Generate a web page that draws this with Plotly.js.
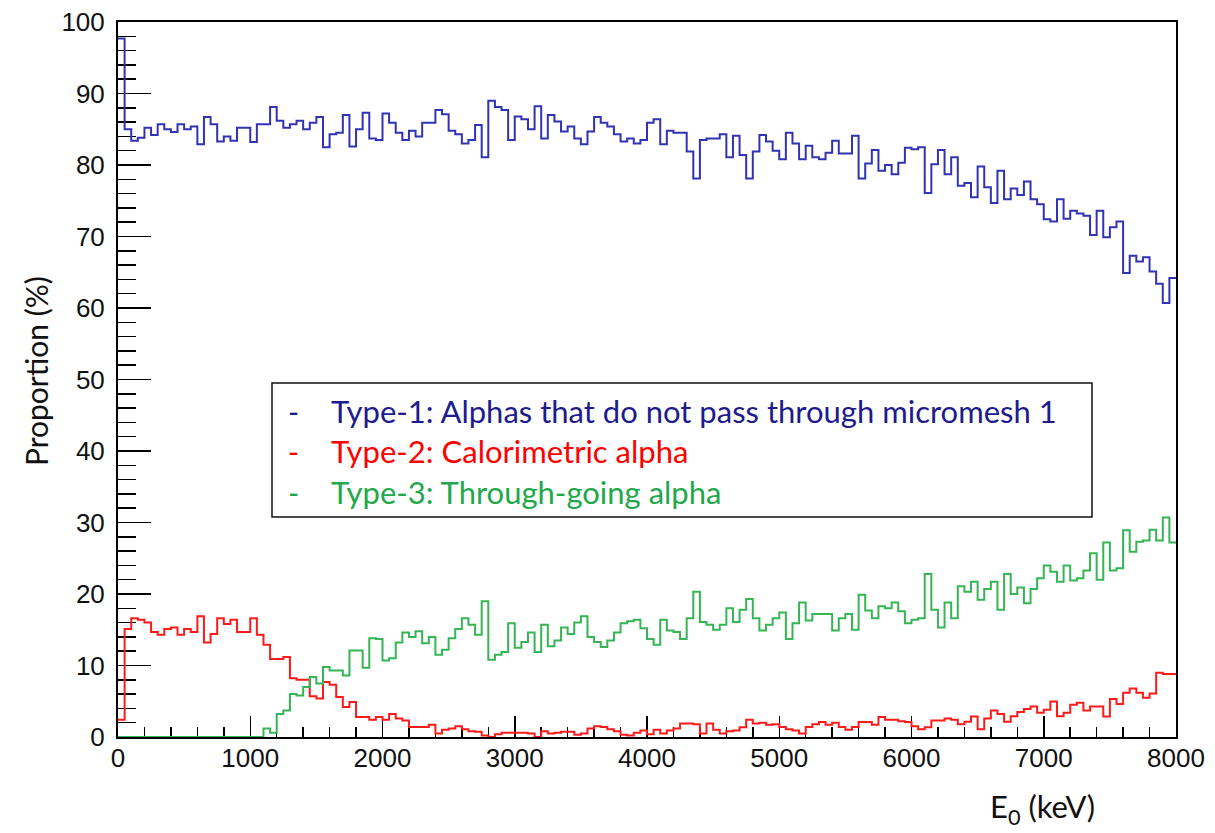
<!DOCTYPE html>
<html>
<head>
<meta charset="utf-8">
<script src="https://cdn.plot.ly/plotly-3.0.1.min.js"></script>
<style>
  html, body { margin: 0; padding: 0; background: #ffffff; }
  #chart { width: 1215px; height: 833px; }
</style>
</head>
<body>
<div id="chart"></div>
<script>
// Histogram binning (keV)
const binWidth = 50;
const energyMin = 0;
const energyMax = 8000;

// Type-1: Alphas that do not pass through micromesh 1 (%)
const type1 = [
  97.7, 85.0, 83.4, 83.8, 85.2, 84.2, 85.7, 85.0, 84.6, 85.7,
  85.0, 85.4, 82.9, 86.7, 85.7, 83.3, 84.0, 83.4, 85.2, 85.2,
  83.2, 85.7, 85.7, 88.1, 86.2, 85.2, 85.7, 86.2, 85.0, 85.9,
  86.7, 82.5, 84.3, 84.5, 87.0, 82.6, 85.0, 87.3, 83.7, 83.5,
  87.2, 85.9, 84.5, 83.5, 84.8, 84.0, 85.9, 85.9, 87.7, 87.1,
  84.8, 84.3, 83.0, 83.5, 85.6, 81.1, 89.0, 88.1, 87.7, 83.5,
  86.8, 86.4, 85.0, 88.2, 83.7, 87.0, 86.1, 84.7, 85.4, 83.7,
  82.9, 84.7, 86.7, 85.9, 85.4, 84.3, 83.3, 83.7, 83.0, 83.5,
  85.9, 86.4, 82.9, 84.8, 84.5, 84.5, 81.9, 78.1, 83.5, 83.7,
  83.7, 84.3, 81.1, 84.1, 81.4, 78.1, 81.9, 84.2, 83.3, 82.0,
  80.8, 84.5, 83.0, 80.8, 82.7, 81.1, 80.8, 81.7, 83.4, 81.6,
  81.6, 84.1, 78.1, 80.2, 82.1, 79.2, 80.0, 78.7, 80.3, 82.4,
  82.2, 82.5, 76.1, 80.1, 82.1, 78.7, 81.1, 77.1, 77.5, 75.5,
  79.8, 76.9, 74.7, 79.2, 75.2, 76.7, 75.8, 77.7, 75.2, 74.5,
  72.4, 72.1, 75.2, 72.5, 73.6, 73.2, 72.9, 70.2, 73.6, 69.9,
  71.3, 72.1, 64.9, 67.3, 66.5, 67.1, 65.1, 63.4, 60.7, 64.2
];

// Type-2: Calorimetric alpha (%)
const type2 = [
  2.4, 15.1, 16.6, 16.4, 16.0, 14.7, 14.3, 15.1, 15.3, 14.3,
  15.1, 14.7, 16.9, 13.2, 14.4, 16.6, 15.8, 16.4, 14.7, 14.7,
  16.6, 14.3, 12.9, 10.9, 10.9, 11.2, 8.2, 8.0, 8.0, 5.7,
  5.4, 7.7, 7.3, 5.6, 4.2, 4.9, 2.8, 2.8, 2.4, 2.8,
  2.4, 3.2, 2.6, 2.3, 1.4, 1.4, 1.4, 1.7, 0.5, 1.0,
  1.2, 1.5, 1.1, 0.8, 0.75, 0.2, 0.0, 0.4, 0.6, 0.6,
  0.6, 0.6, 0.5, 0.0, 0.8, 0.5, 0.6, 0.75, 0.75, 0.3,
  0.5, 1.2, 1.5, 1.4, 1.1, 0.8, 0.3, 0.2, 0.6, 0.9,
  0.4, 1.0, 0.5, 0.9, 1.2, 1.9, 1.9, 1.8, 0.5, 1.9,
  1.0, 0.5, 0.8, 0.9, 1.35, 2.4, 1.9, 2.0, 1.7, 1.8,
  1.4, 1.1, 0.9, 0.5, 1.4, 1.8, 2.1, 1.7, 2.0, 1.4,
  1.0, 1.4, 2.1, 2.1, 1.7, 2.8, 2.4, 2.4, 2.2, 2.1,
  1.5, 1.1, 1.35, 2.3, 2.3, 2.6, 2.4, 1.8, 2.15, 2.85,
  1.1, 2.6, 3.7, 3.2, 2.15, 2.9, 3.5, 3.9, 4.25, 3.4,
  3.8, 4.95, 2.9, 3.4, 4.5, 4.8, 3.7, 4.25, 4.25, 2.85,
  5.3, 4.6, 6.2, 6.8, 6.2, 5.5, 6.1, 9.0, 8.8, 8.8
];

// Type-3: Through-going alpha (%)
const type3 = [
  0, 0, 0, 0, 0, 0, 0, 0, 0, 0,
  0, 0, 0, 0, 0, 0, 0, 0, 0, 0,
  0, 0, 1.2, 0.6, 3.2, 3.7, 6.0, 5.8, 7.0, 8.4,
  7.5, 9.8, 9.3, 9.3, 8.6, 12.1, 12.1, 9.7, 13.8, 13.7,
  10.7, 11.0, 13.2, 14.6, 14.0, 14.8, 13.1, 14.0, 11.5, 12.2,
  13.8, 15.1, 16.6, 15.7, 14.3, 19.0, 10.8, 11.5, 11.9, 15.9,
  12.5, 13.3, 14.6, 11.9, 15.7, 12.7, 13.5, 15.3, 14.4, 16.0,
  16.9, 14.0, 13.3, 12.6, 13.5, 14.6, 15.9, 16.2, 16.4, 15.2,
  13.7, 12.9, 16.4, 14.9, 14.7, 13.7, 16.6, 20.3, 16.1, 15.7,
  15.0, 15.7, 18.0, 16.1, 17.8, 19.3, 16.6, 14.9, 15.7, 16.6,
  17.4, 13.7, 15.9, 18.8, 16.3, 17.2, 17.2, 17.2, 14.9, 16.6,
  17.2, 15.0, 19.9, 17.7, 16.6, 18.3, 18.0, 18.8, 17.6, 15.9,
  16.4, 16.6, 22.8, 17.8, 15.3, 18.8, 16.6, 21.1, 20.3, 21.7,
  19.2, 20.7, 21.7, 17.8, 22.8, 20.0, 20.9, 18.7, 20.7, 22.2,
  24.0, 23.1, 21.7, 24.0, 21.9, 22.2, 23.3, 25.7, 22.0, 27.2,
  23.3, 23.6, 28.9, 25.9, 27.3, 27.5, 29.0, 27.5, 30.7, 27.2
];

const seriesNames = [
  "Type-1: Alphas that do not pass through micromesh 1",
  "Type-2: Calorimetric alpha",
  "Type-3: Through-going alpha"
];
const lineColors = ["#3232b4", "#ff1a1a", "#35b554"];
const textColors = ["#1c1c8e", "#ff0000", "#22a84a"];

const xTickValues = [0, 1000, 2000, 3000, 4000, 5000, 6000, 7000, 8000];
const yTickValues = [0, 10, 20, 30, 40, 50, 60, 70, 80, 90, 100];

// bin edges: low edge of each bin plus the final upper edge
const nBins = Math.round((energyMax - energyMin) / binWidth);
const edges = [];
for (let i = 0; i <= nBins; i++) edges.push(energyMin + i * binWidth);

function stepTrace(values, color, name) {
  return {
    type: "scatter",
    mode: "lines",
    name: name,
    x: edges,
    y: values.concat([values[values.length - 1]]),
    line: { shape: "hv", color: color, width: 2 },
    hoverinfo: "x+y",
    showlegend: false
  };
}

const data = [
  stepTrace(type1, lineColors[0], seriesNames[0]),
  stepTrace(type2, lineColors[1], seriesNames[1]),
  stepTrace(type3, lineColors[2], seriesNames[2])
];

const tickFont = { family: "Liberation Sans, Arial, sans-serif", size: 26, color: "#111111" };
const labelFont = "Lato, Carlito, Calibri, sans-serif";

const L = 118, R = 1176, T = 22, B = 737;
const W = R - L, H = B - T;
function px(x) { return (x - L) / W; }
function py(y) { return (B - y) / H; }

const legendRows = [411, 451, 492];
const annotations = [];
seriesNames.forEach((nm, i) => {
  annotations.push({
    xref: "paper", yref: "paper", x: px(293), y: py(legendRows[i]),
    xanchor: "center", yanchor: "middle", showarrow: false,
    text: "-", font: { family: labelFont, size: 30, color: textColors[i] }
  });
  annotations.push({
    xref: "paper", yref: "paper", x: px(329), y: py(legendRows[i]),
    xanchor: "left", yanchor: "middle", showarrow: false,
    text: nm, font: { family: labelFont, size: 31, color: textColors[i] }
  });
});
annotations.push({
  xref: "paper", yref: "paper", x: px(36), y: py(371),
  xanchor: "center", yanchor: "middle", showarrow: false, textangle: -90,
  text: "Proportion (%)", font: { family: labelFont, size: 30, color: "#111111" }
});
annotations.push({
  xref: "paper", yref: "paper", x: px(1097), y: py(808),
  xanchor: "right", yanchor: "middle", showarrow: false,
  text: "E<sub>0</sub> (keV)", font: { family: labelFont, size: 31, color: "#111111" }
});

const layout = {
  width: 1215, height: 833,
  margin: { l: L, r: 1215 - R, t: T, b: 833 - B, pad: 0 },
  paper_bgcolor: "#ffffff",
  plot_bgcolor: "#ffffff",
  showlegend: false,
  xaxis: {
    range: [energyMin, energyMax],
    tickvals: xTickValues,
    ticktext: xTickValues.map(String),
    ticks: "inside", ticklen: 21, tickwidth: 1.5, tickcolor: "#000000",
    minor: { dtick: 200, ticks: "inside", ticklen: 10, tickwidth: 1.5, tickcolor: "#000000" },
    showgrid: false, zeroline: false,
    showline: true, linecolor: "#000000", linewidth: 2, mirror: true,
    layer: "below traces",
    tickfont: tickFont,
    ticklabelstandoff: -3
  },
  yaxis: {
    range: [0, 100],
    tickvals: yTickValues,
    ticktext: yTickValues.map(String),
    ticks: "inside", ticklen: 33, tickwidth: 1.5, tickcolor: "#000000",
    minor: { dtick: 2, ticks: "inside", ticklen: 18, tickwidth: 1.5, tickcolor: "#000000" },
    showgrid: false, zeroline: false,
    showline: true, linecolor: "#000000", linewidth: 2, mirror: true,
    layer: "below traces",
    tickfont: tickFont,
    ticklabelstandoff: 6
  },
  shapes: [{
    type: "rect", xref: "paper", yref: "paper",
    x0: px(272), x1: px(1092), y0: py(517), y1: py(383),
    line: { color: "#111111", width: 1.5 },
    fillcolor: "rgba(255,255,255,0)"
  }],
  annotations: annotations
};

Plotly.newPlot("chart", data, layout, { displayModeBar: false, staticPlot: true });
</script>
</body>
</html>
